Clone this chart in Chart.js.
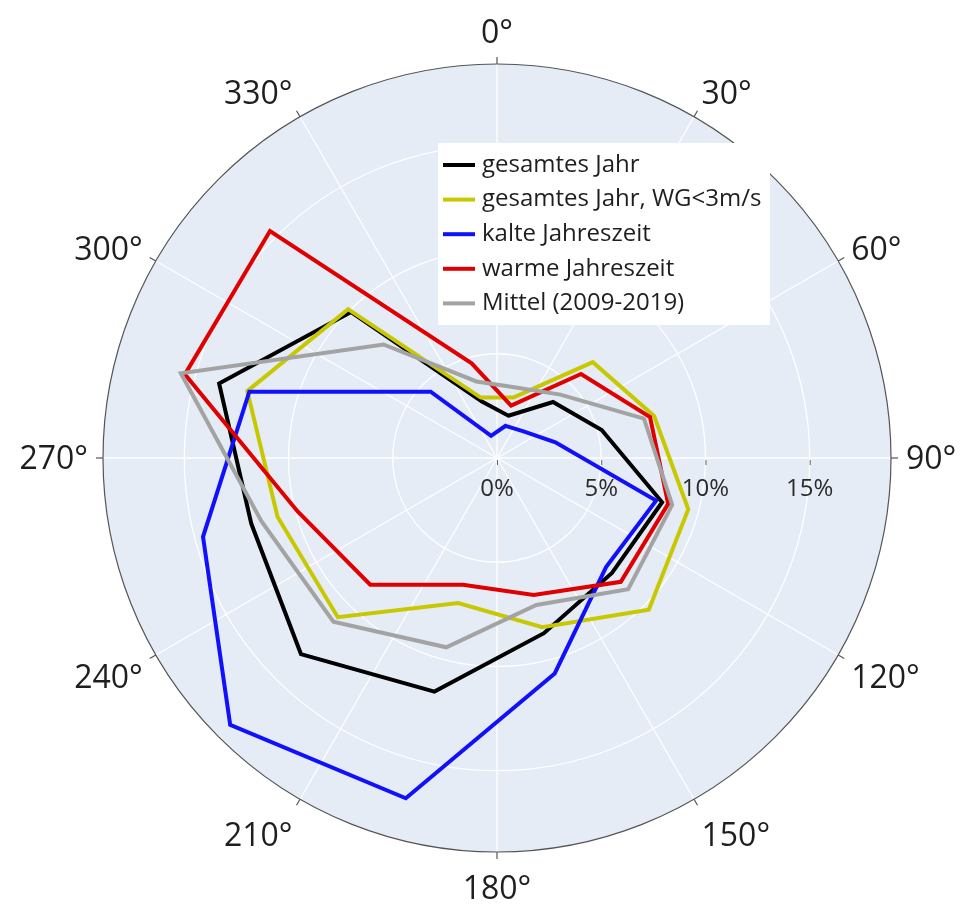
<!DOCTYPE html>
<html lang="de">
<head>
<meta charset="utf-8">
<title>Windrichtungsverteilung</title>
<script src="https://cdn.jsdelivr.net/npm/chart.js@4.4.1/dist/chart.umd.min.js"></script>
<style>
  html, body { margin: 0; padding: 0; background: #fff; }
  #wrap { width: 965px; height: 908px; }
</style>
</head>
<body>
<div id="wrap"><canvas id="rose"></canvas></div>
<script>
// Sektormitten in Grad (12 Sektoren à 30°)
const richtungen = [15, 45, 75, 105, 135, 165, 195, 225, 255, 285, 315, 345];

// relative Häufigkeit je Sektor in %
const gesamtesJahr    = [2.1, 3.8, 5.2, 8.2, 7.8, 8.7, 11.6, 13.3, 12.2, 13.8, 9.9, 2.8];
const gesamtesJahrWG3 = [3.0, 6.5, 7.8, 9.5, 10.3, 8.4, 7.2, 10.8, 10.9, 12.4, 10.1, 3.0];
const kalteJahreszeit = [1.6, 1.8, 2.9, 7.9, 7.4, 10.7, 16.9, 18.1, 14.6, 12.3, 4.5, 1.1];
const warmeJahreszeit = [2.6, 5.7, 7.6, 8.5, 8.4, 6.8, 6.3, 8.6, 9.9, 15.5, 15.4, 4.7];
const mittel0919      = [3.5, 4.3, 7.3, 8.7, 8.9, 7.3, 9.4, 11.1, 11.7, 15.7, 7.7, 3.8];

const serienNamen = ['gesamtes Jahr', 'gesamtes Jahr, WG<3m/s', 'kalte Jahreszeit', 'warme Jahreszeit', 'Mittel (2009-2019)'];
const serienFarben = ['#000000', '#c8c800', '#1010ff', '#e00000', '#a3a3a3'];

// Achsenbeschriftung
const radialTicks = [0, 5, 10, 15];
const radialMax = 18.9;

// Achse in 15°-Schritten: Beschriftung nur alle 30°, Daten auf den Zwischenwinkeln
const achse = [];
for (let w = 0; w < 360; w += 15) achse.push(w + '°');

const aufAchse = werte => achse.map((_, i) => {
  const k = richtungen.indexOf(i * 15);
  return k < 0 ? null : werte[k];
});

const reihen = [gesamtesJahr, gesamtesJahrWG3, kalteJahreszeit, warmeJahreszeit, mittel0919];

const SCHRIFT = '"Open Sans", "DejaVu Sans", sans-serif';

// Hintergrund, Achsentexte und Legende im Plotly-Stil
const polarDeko = {
  id: 'polarDeko',
  beforeDraw(chart) {
    const s = chart.scales.r;
    const ctx = chart.ctx;
    ctx.save();
    ctx.fillStyle = '#e5ecf6';
    ctx.beginPath();
    ctx.arc(s.xCenter, s.yCenter, s.drawingArea, 0, Math.PI * 2);
    ctx.fill();
    ctx.restore();
  },
  beforeDatasetsDraw(chart) {
    const s = chart.scales.r;
    const ctx = chart.ctx;
    ctx.save();
    ctx.font = '24px ' + SCHRIFT;
    ctx.fillStyle = '#2b2b2b';
    ctx.strokeStyle = '#666';
    ctx.lineWidth = 1;
    ctx.textAlign = 'center';
    ctx.textBaseline = 'middle';
    radialTicks.forEach(v => {
      const x = s.xCenter + s.getDistanceFromCenterForValue(v);
      ctx.beginPath();
      ctx.moveTo(x + 0.5, s.yCenter + 2);
      ctx.lineTo(x + 0.5, s.yCenter + 7);
      ctx.stroke();
      ctx.fillText(v + '%', x, s.yCenter + 31);
    });
    ctx.restore();
  },
  afterDatasetsDraw(chart) {
    const s = chart.scales.r;
    const ctx = chart.ctx;
    const R = s.drawingArea;
    ctx.save();

    // äußerer Rand mit Teilstrichen
    ctx.strokeStyle = '#555';
    ctx.lineWidth = 1.2;
    ctx.beginPath();
    ctx.arc(s.xCenter, s.yCenter, R, 0, Math.PI * 2);
    ctx.stroke();

    // Winkelbeschriftung wie bei plotly: Abstand pad, oben gestaucht
    const fs = 32, pad = 15;
    ctx.font = fs + 'px ' + SCHRIFT;
    ctx.fillStyle = '#1e1e1e';
    ctx.textBaseline = 'alphabetic';
    achse.forEach((lbl, i) => {
      if (i % 2) return;
      const innen = s.getPointPosition(i, R);
      const aussen = s.getPointPosition(i, R + 7);
      ctx.beginPath();
      ctx.moveTo(innen.x, innen.y);
      ctx.lineTo(aussen.x, aussen.y);
      ctx.stroke();

      const rad = Math.PI / 2 - s.getIndexAngle(i);
      const c = Math.cos(rad), sn = Math.sin(rad);
      const ff = sn > 0 ? 0.2 : 1;
      const x = innen.x + c * pad;
      const y = innen.y - sn * (pad + fs * ff) + Math.abs(c) * fs * 0.35;
      ctx.textAlign = Math.abs(c) < 0.1 ? 'center' : (c > 0 ? 'left' : 'right');
      ctx.fillText(lbl, x, y);
    });

    // Legende
    const lx = 438, ly = 143, lw = 332, lh = 182;
    ctx.fillStyle = '#ffffff';
    ctx.fillRect(lx, ly, lw, lh);
    ctx.font = '24px ' + SCHRIFT;
    ctx.textAlign = 'left';
    ctx.textBaseline = 'middle';
    ctx.lineWidth = 4;
    chart.data.datasets.forEach((ds, i) => {
      const y = ly + 22 + i * 34.6;
      ctx.strokeStyle = ds.borderColor;
      ctx.beginPath();
      ctx.moveTo(lx + 5, y);
      ctx.lineTo(lx + 37, y);
      ctx.stroke();
      ctx.fillStyle = '#1e1e1e';
      ctx.fillText(ds.label, lx + 44, y);
    });
    ctx.restore();
  }
};

new Chart(document.getElementById('rose'), {
  type: 'radar',
  data: {
    labels: achse,
    datasets: reihen.map((werte, i) => ({
      label: serienNamen[i],
      data: aufAchse(werte),
      borderColor: serienFarben[i],
      backgroundColor: serienFarben[i],
      borderWidth: 4,
      fill: false,
      spanGaps: true,
      order: reihen.length - i
    }))
  },
  options: {
    responsive: true,
    maintainAspectRatio: false,
    animation: false,
    layout: { padding: { left: 103, right: 74, top: 64, bottom: 56 } },
    elements: {
      line: { tension: 0, borderJoinStyle: 'miter' },
      point: { radius: 0, hoverRadius: 0 }
    },
    scales: {
      r: {
        min: 0,
        max: radialMax,
        ticks: { display: false, stepSize: 5, includeBounds: false },
        grid: { circular: true, color: '#ffffff', lineWidth: 1.3 },
        angleLines: {
          color: c => (c.index % 2 === 0 ? '#ffffff' : 'rgba(0,0,0,0)'),
          lineWidth: 1.3
        },
        pointLabels: { display: false }
      }
    },
    plugins: {
      legend: { display: false },
      tooltip: { enabled: false }
    }
  },
  plugins: [polarDeko]
});
</script>
</body>
</html>
